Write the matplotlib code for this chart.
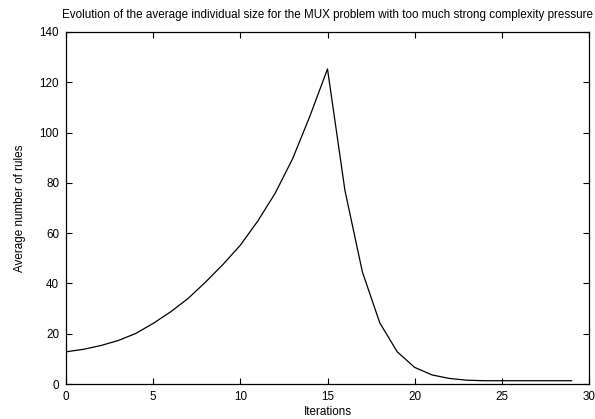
import matplotlib
matplotlib.use("Agg")
import matplotlib.pyplot as plt

iterations = list(range(30))
avg_rules = [12.8, 13.8, 15.3, 17.3, 20.1, 24.1, 28.7, 34.0, 40.5, 47.5,
             55.2, 64.8, 75.9, 89.6, 106.7, 125.3, 77.0, 44.6, 24.3, 12.8,
             6.6, 3.6, 2.2, 1.5, 1.3, 1.3, 1.3, 1.3, 1.3, 1.3]

plt.rcParams['font.family'] = ['Liberation Sans', 'DejaVu Sans']

fig = plt.figure(figsize=(5.95, 4.19), dpi=100)
ax = fig.add_axes([66/595, 1-384/419, (589-66)/595, (384-32)/419])
ax.plot(iterations, avg_rules, color='black', linewidth=0.9)
ax.set_xlim(0, 30)
ax.set_ylim(0, 140)
ax.set_xticks(range(0, 31, 5))
ax.set_yticks(range(0, 141, 20))
ax.tick_params(direction='in', top=True, right=True, length=4, width=0.8, labelsize=8.4, pad=5)
for s in ax.spines.values():
    s.set_linewidth(0.9)
ax.set_title("Evolution of the average individual size for the MUX problem with too much strong complexity pressure",
             fontsize=8.4, pad=10)
ax.set_xlabel("Iterations", fontsize=8.4, labelpad=2)
ax.set_ylabel("Average number of rules", fontsize=8.4, labelpad=10)
fig.savefig("out.png", dpi=100)
